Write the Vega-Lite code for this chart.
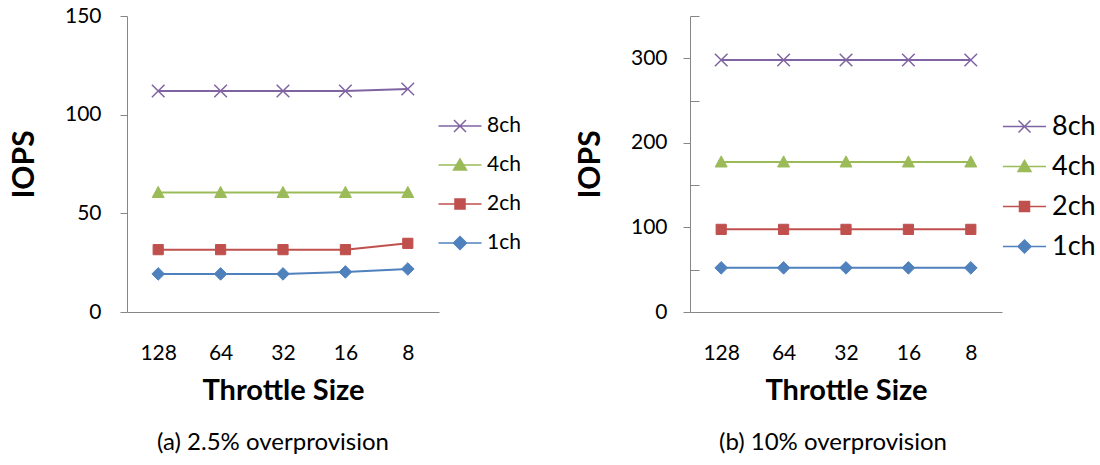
{
  "$schema": "https://vega.github.io/schema/vega-lite/v6.json",
  "padding": {"left": 9, "top": 5, "right": 0, "bottom": 0},
  "config": {
    "font": "Lato",
    "view": {"stroke": null},
    "axis": {"grid": false, "domainColor": "#868686", "tickColor": "#868686", "labelColor": "#000000", "titleColor": "#000000", "labelFont": "Lato", "titleFont": "Lato"},
    "title": {"font": "Lato", "color": "#000000"}
  },
  "datasets": {
    "a": [
      {"size": "128", "series": "8ch", "iops": 112}, {"size": "64", "series": "8ch", "iops": 112}, {"size": "32", "series": "8ch", "iops": 112}, {"size": "16", "series": "8ch", "iops": 112}, {"size": "8", "series": "8ch", "iops": 113},
      {"size": "128", "series": "4ch", "iops": 60.6}, {"size": "64", "series": "4ch", "iops": 60.6}, {"size": "32", "series": "4ch", "iops": 60.6}, {"size": "16", "series": "4ch", "iops": 60.6}, {"size": "8", "series": "4ch", "iops": 60.6},
      {"size": "128", "series": "2ch", "iops": 31.6}, {"size": "64", "series": "2ch", "iops": 31.6}, {"size": "32", "series": "2ch", "iops": 31.6}, {"size": "16", "series": "2ch", "iops": 31.6}, {"size": "8", "series": "2ch", "iops": 34.8},
      {"size": "128", "series": "1ch", "iops": 19.3}, {"size": "64", "series": "1ch", "iops": 19.3}, {"size": "32", "series": "1ch", "iops": 19.3}, {"size": "16", "series": "1ch", "iops": 20.3}, {"size": "8", "series": "1ch", "iops": 21.8}
    ],
    "b": [
      {"size": "128", "series": "8ch", "iops": 298}, {"size": "64", "series": "8ch", "iops": 298}, {"size": "32", "series": "8ch", "iops": 298}, {"size": "16", "series": "8ch", "iops": 298}, {"size": "8", "series": "8ch", "iops": 298},
      {"size": "128", "series": "4ch", "iops": 177.5}, {"size": "64", "series": "4ch", "iops": 177.5}, {"size": "32", "series": "4ch", "iops": 177.5}, {"size": "16", "series": "4ch", "iops": 177.5}, {"size": "8", "series": "4ch", "iops": 177.5},
      {"size": "128", "series": "2ch", "iops": 97.7}, {"size": "64", "series": "2ch", "iops": 97.7}, {"size": "32", "series": "2ch", "iops": 97.7}, {"size": "16", "series": "2ch", "iops": 97.7}, {"size": "8", "series": "2ch", "iops": 97.7},
      {"size": "128", "series": "1ch", "iops": 52.2}, {"size": "64", "series": "1ch", "iops": 52.2}, {"size": "32", "series": "1ch", "iops": 52.2}, {"size": "16", "series": "1ch", "iops": 52.2}, {"size": "8", "series": "1ch", "iops": 52.2}
    ]
  },
  "resolve": {"scale": {"color": "independent"}, "legend": {"color": "independent"}},
  "spacing": 54,
  "hconcat": [
    {
      "width": 312,
      "height": 296,
      "data": {"name": "a"},
      "title": {"text": "(a) 2.5% overprovision", "orient": "bottom", "anchor": "middle", "frame": "group", "fontSize": 24, "fontWeight": "normal", "offset": 26, "dx": -10},
      "encoding": {
        "x": {"field": "size", "type": "ordinal", "sort": ["128", "64", "32", "16", "8"], "scale": {"type": "point", "padding": 0.5},
              "axis": {"title": "Throttle Size", "labelAngle": 0, "ticks": false, "labelFontSize": 21, "labelPadding": 30, "titleFontSize": 29, "titleFontWeight": "bold", "titlePadding": 13}},
        "y": {"field": "iops", "type": "quantitative", "scale": {"domain": [0, 150], "nice": false},
              "axis": {"title": "IOPS", "values": [0, 50, 100, 150], "tickSize": 7, "labelFontSize": 21, "labelPadding": 19, "titleFontSize": 30, "titleFontWeight": "bold", "titlePadding": 25}}
      },
      "layer": [
        {
          "mark": {"type": "line", "strokeWidth": 2},
          "encoding": {
            "color": {"field": "series", "type": "nominal", "scale": {"domain": ["8ch", "4ch", "2ch", "1ch"], "range": ["#8064A2", "#9BBB59", "#C0504D", "#4F81BD"]},
              "legend": {"title": null, "orient": "none", "legendX": 322, "legendY": 99, "labelFontSize": 21, "labelOffset": 16, "symbolSize": 400, "rowPadding": 18,
                "encode": {"symbols": {"update": {
                  "shape": {"signal": "datum.value === '8ch' ? 'M-2.15,0L2.15,0M-0.6,-0.6L0.6,0.6M-0.6,0.6L0.6,-0.6' : datum.value === '4ch' ? 'M-2.15,0L2.15,0M0,-0.6L0.65,0.5L-0.65,0.5Z' : datum.value === '2ch' ? 'M-2.15,0L2.15,0M-0.5,-0.5L0.5,-0.5L0.5,0.5L-0.5,0.5Z' : 'M-2.15,0L2.15,0M0,-0.65L0.65,0L0,0.65L-0.65,0Z'"},
                  "fill": {"signal": "datum.value === '8ch' ? '#8064A2' : datum.value === '4ch' ? '#9BBB59' : datum.value === '2ch' ? '#C0504D' : '#4F81BD'"},
                  "stroke": {"signal": "datum.value === '8ch' ? '#8064A2' : datum.value === '4ch' ? '#9BBB59' : datum.value === '2ch' ? '#C0504D' : '#4F81BD'"},
                  "strokeWidth": {"value": 1.5},
                  "size": {"value": 400},
                  "opacity": {"value": 1}
                }}}}}
          }
        },
        {"transform": [{"filter": "datum.series === '8ch'"}], "mark": {"type": "point", "shape": "M-1.05,-1.05L1.05,1.05M-1.05,1.05L1.05,-1.05", "filled": true, "size": 144, "opacity": 1, "fill": "#8064A2", "stroke": "#8064A2", "strokeWidth": 1.5}, "encoding": {}},
        {"transform": [{"filter": "datum.series === '4ch'"}], "mark": {"type": "point", "shape": "M0,-1L1,0.85L-1,0.85Z", "filled": true, "size": 144, "opacity": 1, "fill": "#9BBB59", "stroke": "#9BBB59", "strokeWidth": 1}, "encoding": {}},
        {"transform": [{"filter": "datum.series === '2ch'"}], "mark": {"type": "point", "shape": "M-0.85,-0.85L0.85,-0.85L0.85,0.85L-0.85,0.85Z", "filled": true, "size": 144, "opacity": 1, "fill": "#C0504D", "stroke": "#C0504D", "strokeWidth": 1}, "encoding": {}},
        {"transform": [{"filter": "datum.series === '1ch'"}], "mark": {"type": "point", "shape": "M0,-1.05L1.05,0L0,1.05L-1.05,0Z", "filled": true, "size": 144, "opacity": 1, "fill": "#4F81BD", "stroke": "#4F81BD", "strokeWidth": 1}, "encoding": {}}
      ]
    },
    {
      "width": 312,
      "height": 296,
      "data": {"name": "b"},
      "title": {"text": "(b) 10% overprovision", "orient": "bottom", "anchor": "middle", "frame": "group", "fontSize": 24, "fontWeight": "normal", "offset": 26, "dx": -13},
      "encoding": {
        "x": {"field": "size", "type": "ordinal", "sort": ["128", "64", "32", "16", "8"], "scale": {"type": "point", "padding": 0.5},
              "axis": {"title": "Throttle Size", "labelAngle": 0, "ticks": false, "labelFontSize": 21, "labelPadding": 30, "titleFontSize": 29, "titleFontWeight": "bold", "titlePadding": 13}},
        "y": {"field": "iops", "type": "quantitative", "scale": {"domain": [0, 350], "nice": false},
              "axis": {"title": "IOPS", "values": [0, 50, 100, 150, 200, 250, 300, 350], "labelExpr": "datum.value % 100 === 0 && datum.value < 350 ? datum.label : ''",
                "tickSize": {"condition": {"test": "datum.value % 100 !== 0", "value": -9}, "value": 7}, "labelFontSize": 21, "labelPadding": 16, "titleFontSize": 30, "titleFontWeight": "bold", "titlePadding": 25}}
      },
      "layer": [
        {
          "mark": {"type": "line", "strokeWidth": 2},
          "encoding": {
            "color": {"field": "series", "type": "nominal", "scale": {"domain": ["8ch", "4ch", "2ch", "1ch"], "range": ["#8064A2", "#9BBB59", "#C0504D", "#4F81BD"]},
              "legend": {"title": null, "orient": "none", "legendX": 321, "legendY": 97, "labelFontSize": 27, "labelOffset": 14, "symbolSize": 400, "rowPadding": 12,
                "encode": {"symbols": {"update": {
                  "shape": {"signal": "datum.value === '8ch' ? 'M-2.15,0L2.15,0M-0.6,-0.6L0.6,0.6M-0.6,0.6L0.6,-0.6' : datum.value === '4ch' ? 'M-2.15,0L2.15,0M0,-0.6L0.65,0.5L-0.65,0.5Z' : datum.value === '2ch' ? 'M-2.15,0L2.15,0M-0.5,-0.5L0.5,-0.5L0.5,0.5L-0.5,0.5Z' : 'M-2.15,0L2.15,0M0,-0.65L0.65,0L0,0.65L-0.65,0Z'"},
                  "fill": {"signal": "datum.value === '8ch' ? '#8064A2' : datum.value === '4ch' ? '#9BBB59' : datum.value === '2ch' ? '#C0504D' : '#4F81BD'"},
                  "stroke": {"signal": "datum.value === '8ch' ? '#8064A2' : datum.value === '4ch' ? '#9BBB59' : datum.value === '2ch' ? '#C0504D' : '#4F81BD'"},
                  "strokeWidth": {"value": 1.5},
                  "size": {"value": 400},
                  "opacity": {"value": 1}
                }}}}}
          }
        },
        {"transform": [{"filter": "datum.series === '8ch'"}], "mark": {"type": "point", "shape": "M-1.05,-1.05L1.05,1.05M-1.05,1.05L1.05,-1.05", "filled": true, "size": 144, "opacity": 1, "fill": "#8064A2", "stroke": "#8064A2", "strokeWidth": 1.5}, "encoding": {}},
        {"transform": [{"filter": "datum.series === '4ch'"}], "mark": {"type": "point", "shape": "M0,-1L1,0.85L-1,0.85Z", "filled": true, "size": 144, "opacity": 1, "fill": "#9BBB59", "stroke": "#9BBB59", "strokeWidth": 1}, "encoding": {}},
        {"transform": [{"filter": "datum.series === '2ch'"}], "mark": {"type": "point", "shape": "M-0.85,-0.85L0.85,-0.85L0.85,0.85L-0.85,0.85Z", "filled": true, "size": 144, "opacity": 1, "fill": "#C0504D", "stroke": "#C0504D", "strokeWidth": 1}, "encoding": {}},
        {"transform": [{"filter": "datum.series === '1ch'"}], "mark": {"type": "point", "shape": "M0,-1.05L1.05,0L0,1.05L-1.05,0Z", "filled": true, "size": 144, "opacity": 1, "fill": "#4F81BD", "stroke": "#4F81BD", "strokeWidth": 1}, "encoding": {}}
      ]
    }
  ]
}
